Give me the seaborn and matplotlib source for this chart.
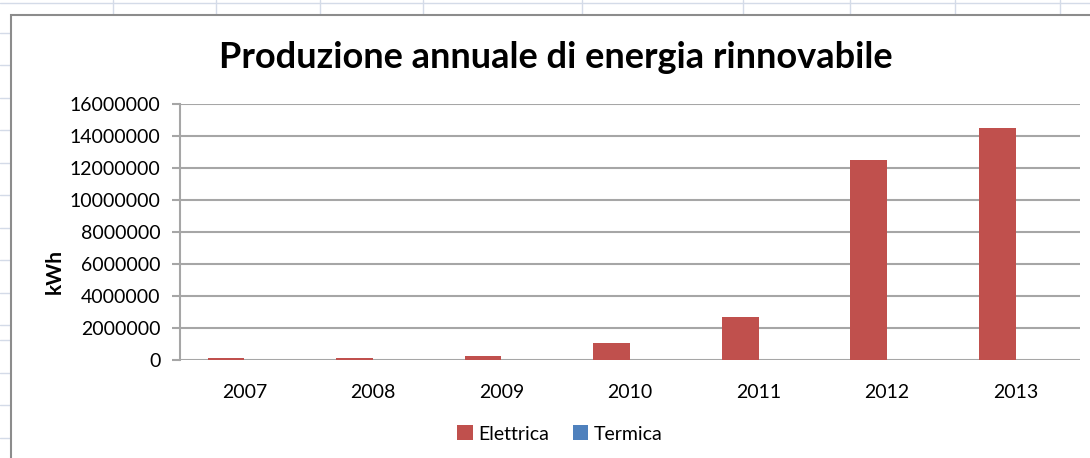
import numpy as np
import pandas as pd
import seaborn as sns
import matplotlib
matplotlib.use("Agg")
import matplotlib.pyplot as plt
from matplotlib.patches import Rectangle, Patch
from matplotlib.lines import Line2D

# data
anni = ["2007", "2008", "2009", "2010", "2011", "2012", "2013"]
elettrica = [120000, 110000, 220000, 1070000, 2680000, 12480000, 14490000]
termica = [0, 0, 0, 0, 0, 0, 0]
serie = ["Elettrica", "Termica"]
colori = ["#C0504D", "#4F81BD"]
y_ticks = [0, 2000000, 4000000, 6000000, 8000000, 10000000, 12000000, 14000000, 16000000]

df = pd.DataFrame({
    "anno": anni * 2,
    "tipo": [serie[0]] * len(anni) + [serie[1]] * len(anni),
    "kWh": elettrica + termica,
})

sns.set_style("white")
plt.rcParams["font.family"] = ["Lato", "DejaVu Sans"]
plt.rcParams["text.color"] = "black"
plt.rcParams["xtick.color"] = "black"
plt.rcParams["ytick.color"] = "black"

W, H = 1090, 458
fig = plt.figure(figsize=(W / 100, H / 100), dpi=100)
fig.patch.set_facecolor("white")

# spreadsheet grid behind the chart
grid_c = "#d4dbe8"
for x in [113, 216, 320, 423, 582, 743, 850, 955, 1060]:
    fig.add_artist(Line2D([x / W, x / W], [1, 1 - 15 / H], color=grid_c, lw=1, zorder=-3))
for y in [33, 65, 98, 130, 163, 195, 228, 260, 293, 325, 340, 373, 405, 438]:
    fig.add_artist(Line2D([0, 11 / W], [1 - y / H, 1 - y / H], color=grid_c, lw=1, zorder=-3))
fig.add_artist(Line2D([0, 1], [1 - 3 / H, 1 - 3 / H], color=grid_c, lw=1, zorder=-3))

# chart area
fig.add_artist(Rectangle((11 / W, -0.01), 1.0, 1 - 15 / H + 0.01, transform=fig.transFigure,
                         facecolor="white", edgecolor="#8c8c8c", lw=1.5, zorder=-2))

ax = fig.add_axes([180 / W, 1 - 360 / H, 900 / W, 256 / H])
ax.patch.set_alpha(0)
sns.barplot(data=df, x="anno", y="kWh", hue="tipo", palette=colori, width=0.571,
            gap=0, saturation=1, ax=ax, legend=False, linewidth=0, zorder=3)

ax.set_ylim(0, 16000000)
ax.set_yticks(y_ticks)
ax.set_yticklabels([str(v) for v in y_ticks])
ax.set_xlim(-0.5, len(anni) - 0.5)
ax.yaxis.grid(True, color="#a6a6a6", lw=1.5)
ax.set_axisbelow(True)
for s in ["top", "right", "bottom"]:
    ax.spines[s].set_visible(False)
ax.spines["left"].set_color("#a6a6a6")
ax.spines["left"].set_linewidth(1.5)
ax.tick_params(axis="y", length=6, color="#a6a6a6", width=1.5, labelsize=14, pad=8,
               left=True, labelcolor="black")
ax.tick_params(axis="x", length=0, labelsize=14, pad=17, labelcolor="black")
ax.set_xlabel("")
ax.set_ylabel("")

fig.text(556 / W, 1 - 57 / H, "Produzione annuale di energia rinnovabile", ha="center",
         va="center", fontsize=26, fontweight="bold")
fig.text(55 / W, 1 - 272 / H, "kWh", rotation=90, ha="center", va="center",
         fontsize=15, fontweight="bold")

handles = [Patch(facecolor=c, edgecolor="none") for c in colori]
fig.legend(handles, serie, loc="center", bbox_to_anchor=(560 / W, 1 - 434 / H), ncol=2,
           frameon=False, fontsize=14, handlelength=0.8, handleheight=0.8,
           handletextpad=0.3, columnspacing=1.2)

fig.savefig("out.png", dpi=100)
